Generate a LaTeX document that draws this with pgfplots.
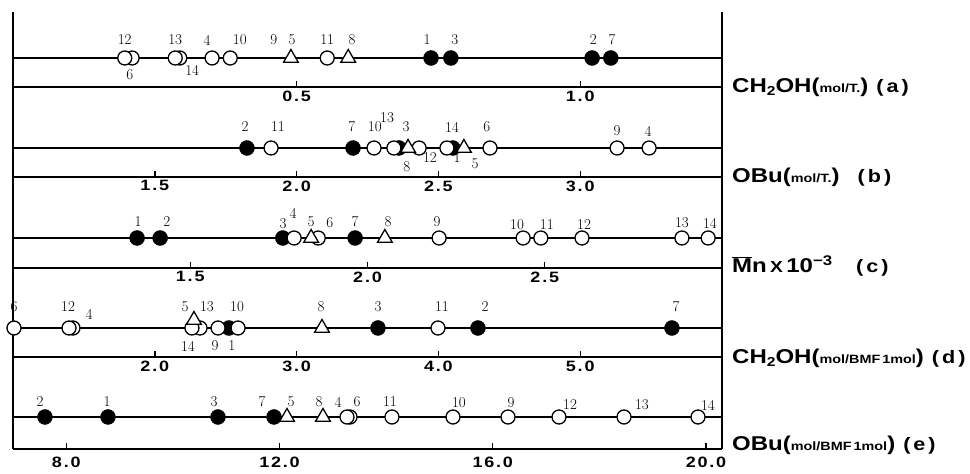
\documentclass[border=0pt]{standalone}
\usepackage{fontspec}
\usepackage{pgfplots}
\pgfplotsset{compat=1.18}
\newfontfamily\lab[FakeStretch=1.2]{Liberation Sans}
\newfontfamily\tickf[FakeStretch=1.2,LetterSpace=12]{Liberation Sans}
\newcommand\numf{\fontsize{15}{15}\selectfont}
\newcommand\Lbig{\lab\bfseries\fontsize{20}{20}\selectfont}
\newcommand\Lsmall{\lab\bfseries\fontsize{12}{12}\selectfont}
\newcommand\Lsub[1]{\raisebox{-0.35ex}{\lab\bfseries\fontsize{13}{13}\selectfont #1}}
\newcommand\Lpar[1]{\lab\bfseries\fontsize{18}{18}\selectfont (\,#1\,)}
\pgfplotsset{
  panel/.style={scale only axis, width=709pt, clip=false,
    axis x line*=bottom, axis y line=none, ymin=0, ytick=\empty,
    xtick align=inside, major tick length=6pt,
    tick style={black, line width=1.4pt},
    axis line style={black, line width=1.7pt},
    xticklabel style={font=\tickf\bfseries\fontsize{15}{15}\selectfont},
    /pgf/number format/.cd, fixed, fixed zerofill, precision=1, assume math mode=true},
  dline/.style={black, line width=1.5pt, no marks},
  open/.style={only marks, mark=*, mark size=7pt, mark options={fill=white, draw=black, line width=1.3pt}},
  filled/.style={only marks, mark=*, mark size=7.5pt, mark options={fill=black, draw=black}},
  tri/.style={only marks, mark=triangle*, mark size=8.5pt, mark options={fill=white, draw=black, line width=1.3pt}},
  labs/.style={only marks, mark=none, nodes near coords, point meta=explicit symbolic,
    every node near coord/.append style={anchor=center, inner sep=0pt, font=\numf, text=black}},
}
\newcommand\borders{\draw[line width=1.7pt] (rel axis cs:0,0) -- (rel axis cs:0,1);
  \draw[line width=1.7pt] (rel axis cs:1,0) -- (rel axis cs:1,1);}
\begin{document}
\begin{tikzpicture}
\useasboundingbox (0,0) rectangle (970pt,474pt);
% ---------------- (a)
\begin{axis}[panel, at={(13pt,387pt)}, anchor=south west, height=75pt, ymax=75,
  xmin=0, xmax=1.25, xtick={0.5,1.0}]
\borders
\addplot[dline] coordinates {(0,29) (1.25,29)};
\addplot[filled] coordinates {(0.737,29) (0.772,29) (1.021,29) (1.054,29)};
\addplot[open] coordinates {(0.554,29) (0.383,29) (0.351,29) (0.294,29) (0.286,29) (0.210,29) (0.197,29)};
\addplot[tri] coordinates {(0.490,29) (0.591,29)};
\addplot[labs] table[meta=l] {
x y l
0.197 47 12
0.206 12 6
0.286 47 13
0.316 17 14
0.342 47 4
0.400 47 10
0.460 47 9
0.492 47 5
0.554 47 11
0.598 47 8
0.730 47 1
0.779 47 3
1.023 47 2
1.056 47 7
};
\node[anchor=west, inner sep=0pt] at (rel axis cs:1,0) [xshift=10pt] {{\Lbig CH\Lsub{2}OH(}{\Lsmall mol/T.}{\Lbig )}\hspace{8pt}\Lpar{a}};
\end{axis}
% ---------------- (b)
\begin{axis}[panel, at={(13pt,297pt)}, anchor=south west, height=90pt, ymax=90,
  xmin=1, xmax=3.5, xtick={1.5,2.0,2.5,3.0}]
\borders
\addplot[dline] coordinates {(1,29) (3.5,29)};
\addplot[filled] coordinates {(1.825,29) (2.199,29) (2.361,29) (2.551,29)};
\addplot[open] coordinates {(3.243,29) (3.130,29) (2.682,29) (2.530,29) (2.432,29) (2.343,29) (2.273,29) (1.910,29)};
\addplot[tri] coordinates {(2.393,29) (2.590,29)};
\addplot[labs] table[meta=l] {
x y l
1.818 50 2
1.934 50 11
2.195 50 7
2.276 50 10
2.319 59 13
2.386 50 3
2.548 50 14
2.671 50 6
3.130 46 9
3.239 46 4
2.389 10 8
2.470 19 12
2.566 19 1
2.629 13 5
};
\node[anchor=west, inner sep=0pt] at (rel axis cs:1,0) [xshift=10pt] {{\Lbig OBu(}{\Lsmall mol/T.}{\Lbig )}\hspace{18pt}\Lpar{b}};
\end{axis}
% ---------------- (c)
\begin{axis}[panel, at={(13pt,206pt)}, anchor=south west, height=91pt, ymax=91,
  xmin=1, xmax=3, xtick={1.5,2.0,2.5}]
\borders
\addplot[dline] coordinates {(1,30) (3,30)};
\addplot[filled] coordinates {(1.350,30) (1.415,30) (1.761,30) (1.965,30)};
\addplot[open] coordinates {(2.961,30) (2.887,30) (2.605,30) (2.489,30) (2.439,30) (2.202,30) (1.861,30) (1.793,30)};
\addplot[tri] coordinates {(1.841,30) (2.049,30)};
\addplot[labs] table[meta=l] {
x y l
1.353 46 1
1.434 46 2
1.762 44 3
1.790 55 4
1.841 46 5
1.894 45 6
1.965 46 7
2.058 46 8
2.196 46 9
2.422 43 10
2.506 43 11
2.611 43 12
2.887 45 13
2.966 45 14
};
\node[anchor=west, inner sep=0pt] at (rel axis cs:1,0) [xshift=10pt, yshift=2pt] {{\Lbig $\overline{\mbox{M}}$n\,{\fontsize{16}{16}\selectfont X}\,10\raisebox{0.7ex}{\fontsize{14}{14}\selectfont −3}}\hspace{24pt}\Lpar{c}};
\end{axis}
% ---------------- (d)
\begin{axis}[panel, at={(13pt,117pt)}, anchor=south west, height=89pt, ymax=89,
  xmin=1, xmax=6, xtick={2.0,3.0,4.0,5.0}]
\borders
\addplot[dline] coordinates {(1,29) (6,29)};
\addplot[filled] coordinates {(2.523,29) (3.574,29) (4.279,29) (5.647,29)};
\addplot[open] coordinates {(3.997,29) (2.587,29) (2.446,29) (2.319,29) (2.262,29) (1.423,29) (1.395,29) (1.007,29)};
\addplot[tri] coordinates {(2.276,37) (3.179,29)};
\addplot[labs] table[meta=l] {
x y l
1.007 50 6
1.388 50 12
1.536 43 4
2.213 50 5
2.368 50 13
2.580 50 10
3.172 50 8
3.574 50 3
4.025 50 11
4.329 50 2
5.676 50 7
2.234 11 14
2.425 11 9
2.544 11 1
};
\node[anchor=west, inner sep=0pt] at (rel axis cs:1,0) [xshift=10pt, yshift=-1pt] {{\Lbig CH\Lsub{2}OH(}{\Lsmall mol/BMF\,1mol}{\Lbig )}\hspace{8pt}\Lpar{d}};
\end{axis}
% ---------------- (e)
\begin{axis}[panel, at={(13pt,25pt)}, anchor=south west, height=92pt, ymax=92,
  xmin=7, xmax=20.3, xtick={8.0,12.0,16.0,20.0}, xticklabel style={yshift=-4pt}]
\borders
\addplot[dline] coordinates {(7,32) (20.3,32)};
\addplot[filled] coordinates {(7.600,32) (8.782,32) (10.845,32) (11.896,32)};
\addplot[open] coordinates {(19.850,32) (18.462,32) (17.242,32) (16.286,32) (15.254,32) (14.109,32) (13.322,32) (13.265,32)};
\addplot[tri] coordinates {(12.140,32) (12.815,32)};
\addplot[labs] table[meta=l] {
x y l
7.506 47 2
8.763 47 1
10.770 47 3
11.671 47 7
12.215 47 5
12.740 47 8
13.096 47 4
13.453 47 6
14.072 47 11
15.366 46 10
16.342 46 9
17.449 44 12
18.799 44 13
20.037 44 14
};
\node[anchor=west, inner sep=0pt] at (rel axis cs:1,0) [xshift=10pt, yshift=4pt] {{\Lbig OBu(}{\Lsmall mol/BMF\,1mol}{\Lbig )}\hspace{8pt}\Lpar{e}};
\end{axis}
\end{tikzpicture}
\end{document}
